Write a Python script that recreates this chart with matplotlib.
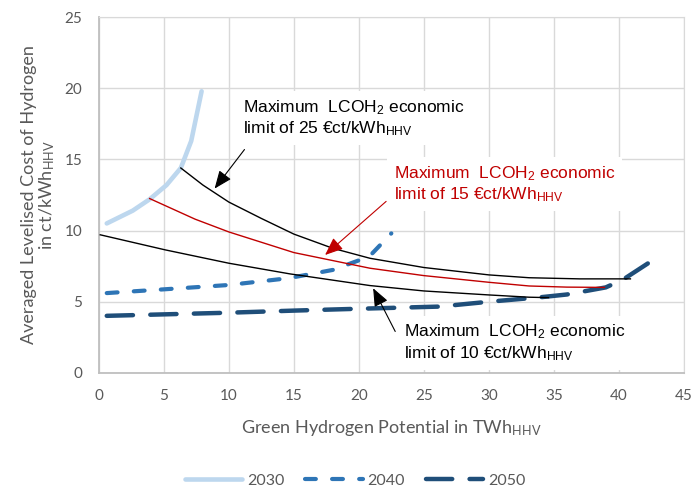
import matplotlib.pyplot as plt

plt.rcParams['font.family'] = ['Lato', 'DejaVu Sans']
plt.rcParams['mathtext.default'] = 'regular'

# Data
x2030 = [0.6, 2.6, 3.9, 5.2, 6.3, 7.1, 7.9]
y2030 = [10.5, 11.4, 12.2, 13.2, 14.4, 16.3, 19.8]

x2040 = [0.6, 5.1, 10.0, 14.6, 18.0, 20.8, 22.5]
y2040 = [5.6, 5.87, 6.17, 6.65, 7.23, 8.17, 9.8]

x2050 = [0.6, 10.0, 15.1, 19.3, 26.2, 30.1, 33.9, 36.0, 39.0, 40.3, 42.6]
y2050 = [4.0, 4.22, 4.37, 4.48, 4.65, 5.0, 5.3, 5.5, 6.0, 6.53, 7.9]

# economic limit curves
x_lim25 = [6.3, 8.0, 10.0, 12.5, 15.0, 18.0, 20.85, 25.0, 30.0, 33.1, 37.0, 40.9]
y_lim25 = [14.4, 13.2, 12.0, 10.85, 9.75, 8.75, 8.05, 7.4, 6.88, 6.68, 6.6, 6.6]

x_lim15 = [3.9, 7.4, 10.0, 15.0, 20.85, 25.0, 30.0, 33.1, 36.0, 38.9]
y_lim15 = [12.25, 10.8, 9.9, 8.45, 7.35, 6.83, 6.36, 6.1, 6.02, 6.0]

x_lim10 = [0.1, 5.1, 10.0, 14.7, 20.85, 25.0, 30.0, 33.1, 34.6]
y_lim10 = [9.7, 8.64, 7.7, 6.95, 6.13, 5.75, 5.47, 5.31, 5.28]

c2030 = '#BDD7EE'
c2040 = '#2E75B6'
c2050 = '#1F4E79'
red = '#C00000'
grey_txt = '#595959'

fig = plt.figure(figsize=(6.92, 4.88), dpi=100)
ax = fig.add_axes([0.143, 0.2363, 0.845, 0.7282])

ax.plot(x_lim25, y_lim25, color='black', lw=1.0, zorder=3)
ax.plot(x_lim15, y_lim15, color=red, lw=1.0, zorder=3)
ax.plot(x_lim10, y_lim10, color='black', lw=1.0, zorder=3)

l30, = ax.plot(x2030, y2030, color=c2030, lw=3.3, solid_capstyle='round', zorder=2, label='2030')
l40, = ax.plot(x2040, y2040, color=c2040, lw=3.0, dashes=(2.6, 3.9),
               dash_capstyle='round', zorder=2, label='2040')
l50, = ax.plot(x2050, y2050, color=c2050, lw=3.2, dashes=(5.9, 3.9),
               dash_capstyle='round', zorder=2, label='2050')

ax.set_xlim(0, 45)
ax.set_ylim(0, 25)
ax.set_xticks(range(0, 46, 5))
ax.set_yticks(range(0, 26, 5))
ax.grid(True, color='#D9D9D9', lw=1.0)
ax.set_axisbelow(True)
for s in ['top', 'right']:
    ax.spines[s].set_color('#D9D9D9')
for s in ['left', 'bottom']:
    ax.spines[s].set_color('#BFBFBF')
    ax.spines[s].set_linewidth(1.3)
ax.tick_params(length=0, labelsize=11, labelcolor=grey_txt, pad=12)

ax.set_xlabel('Green Hydrogen Potential in TWh$_{HHV}$', fontsize=13, color=grey_txt)
ax.xaxis.set_label_coords(0.5, -0.127)
ax.set_ylabel('Averaged Levelised Cost of Hydrogen\nin ct/kWh$_{HHV}$', fontsize=13,
              color=grey_txt, linespacing=1.0)
ax.yaxis.set_label_coords(-0.072, 0.5)

# annotations
afont = dict(family='Liberation Sans', fontsize=12.5, va='center', ha='left',
             linespacing=1.2, zorder=5)
box = dict(facecolor='white', edgecolor='none', pad=5)

ax.text(11.1, 17.9, 'Maximum  LCOH$_2$ economic\nlimit of 25 \u20acct/kWh$_{HHV}$',
        color='black', bbox=box, **afont)
ax.text(22.7, 13.25, 'Maximum  LCOH$_2$ economic\nlimit of 15 \u20acct/kWh$_{HHV}$',
        color=red, bbox=box, **afont)
ax.text(23.5, 2.1, 'Maximum  LCOH$_2$ economic\nlimit of 10 \u20acct/kWh$_{HHV}$',
        color='black', bbox=box, **afont)

head = '-|>,head_length=1.1,head_width=0.45'
ax.annotate('', xy=(8.9, 12.95), xytext=(11.2, 15.7),
            arrowprops=dict(arrowstyle=head, color='black', lw=0.8,
                            shrinkA=0, shrinkB=0), zorder=4)
ax.annotate('', xy=(17.4, 8.28), xytext=(22.1, 12.05),
            arrowprops=dict(arrowstyle=head, color=red, lw=0.8,
                            shrinkA=0, shrinkB=0), zorder=4)
ax.annotate('', xy=(21.1, 5.94), xytext=(22.8, 2.9),
            arrowprops=dict(arrowstyle=head, color='black', lw=0.8,
                            shrinkA=0, shrinkB=0), zorder=4)

leg = fig.legend(handles=[l30, l40, l50], loc='center', bbox_to_anchor=(0.513, 0.0145),
                 ncol=3, frameon=False, fontsize=11.5, handlelength=3.6,
                 handletextpad=0.3, columnspacing=1.3)
for t in leg.get_texts():
    t.set_color(grey_txt)

fig.savefig('out.png', dpi=100)
